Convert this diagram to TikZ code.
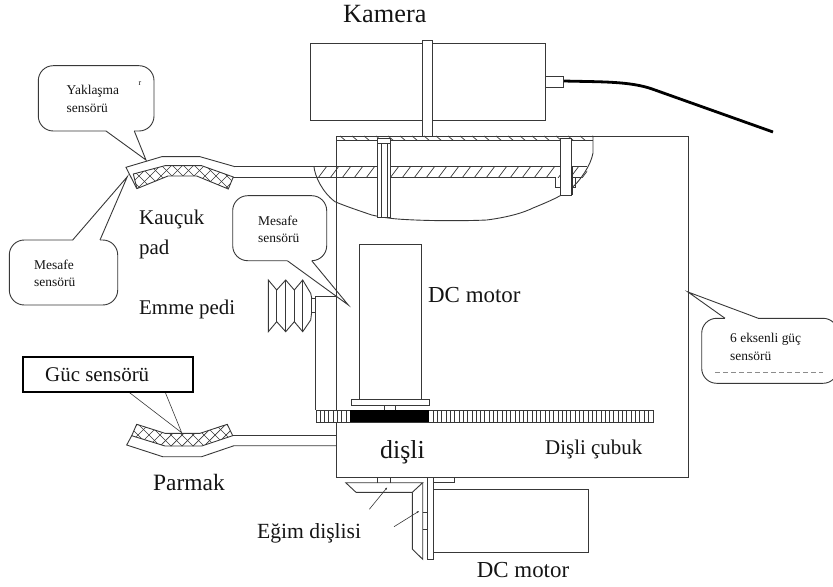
\documentclass[tikz,border=0pt]{standalone}
\usepackage{fontspec}
\usetikzlibrary{arrows.meta}
\setmainfont{Liberation Serif}
% left, top, right, bottom, pointer foot 1, pointer foot 2, edge the feet sit on, tip x, tip y
\newcommand{\CallBox}[9]{%
  \draw[part,rounded corners=15,fill=white] (#1,#2) rectangle (#3,#4);
  \draw[white,line width=2bp] (#5,#7) -- (#6,#7);
  \draw[part] (#5,#7) -- (#8,#9) -- (#6,#7);
}
\tikzset{
  part/.style={draw=black!78,line width=.9bp,line join=miter},
  thin line/.style={line width=.6bp},
  hatchline/.style={draw=black!78,line width=.7bp},
  lbl/.style={anchor=base west,inner sep=0pt,text=black!92},
  big/.style={lbl,font=\fontsize{21}{24}\selectfont},
  small/.style={lbl,font=\fontsize{13.5}{15}\selectfont},
}
\begin{document}
\begin{tikzpicture}[x=1bp,y=-1bp]
\useasboundingbox (0,0) rectangle (833,587);
\clip (0,0) rectangle (833,587);
% camera
\draw[part] (310,43.5) rectangle (545,120.7);
\draw[part,fill=white] (422.7,40.7) rectangle (432.7,136);
\draw[part] (545,76.7) rectangle (563.7,87.3);
\draw[line width=2.8bp,black] (564,81) .. controls (600,82) and (630,81) .. (653,89.3) -- (773,132);
% main box
\draw[part] (336.7,136) rectangle (688,477);
% top hatched strip
\begin{scope}
\clip (336.7,136) rectangle (593,140.7);
\foreach \x in {340,352,...,600} \draw[hatchline] (\x,136) -- (\x+6,141);
\end{scope}
\draw[part] (336.7,140.7) -- (593,140.7);
% arm and plate
\begin{scope}
\clip (314,166.7) rectangle (587,177.3);
\foreach \x in {318,330,...,600} \draw[hatchline] (\x,178) -- (\x+9,166);
\end{scope}
\draw[part] (235,166.7) -- (587,166.7);
\draw[part] (232.7,177.3) -- (555,177.3);
% cut-away outline
\draw[part] (314,167) .. controls (315,176) and (322,192) .. (335,201.7)
  .. controls (345,206) and (360,211) .. (371.7,215)
  .. controls (385,218) and (395,219) .. (405,219.5)
  .. controls (430,221) and (465,221) .. (486.7,220)
  .. controls (510,217) and (525,212) .. (533,208)
  .. controls (550,201) and (562,196) .. (571.7,188)
  .. controls (580,181) and (591,165) .. (593,153) -- (593,136);
% bolts
\draw[part,fill=white] (377.3,138) rectangle (390.7,217.3);
\draw[part] (381,143) -- (381,217.3) (387.3,143) -- (387.3,217.3);
\draw[part,fill=white] (377.3,138) rectangle (390.7,143);
\draw[part,fill=white] (555,177.3) -- (555,187.3) -- (560.7,187.3);
\draw[part] (575,177.3) -- (575,187) -- (571.7,187);
\draw[part,fill=white] (560.7,138) rectangle (571.7,195);
\draw[line width=1.4bp,black!80] (572,166.7) -- (572,195);
\draw[part] (571.7,177.3) -- (581,177.3);
% upper finger
\draw[part] (235,166.7) -- (200,156.7) -- (161.7,156.7) -- (126,167.3) -- (136.7,188.6);
\begin{scope}
\clip (133.3,174) -- (165,165.7) -- (201.7,165.7) -- (233.3,177) -- (228.3,189) -- (196.7,176) -- (168,176) -- (137,188.6) -- cycle;
\foreach \x in {90,101,...,260} {
  \draw[hatchline] (\x,160) -- (\x+32,192);
  \draw[hatchline] (\x,192) -- (\x+32,160);
}
\end{scope}
\draw[part] (133.3,174) -- (165,165.7) -- (201.7,165.7) -- (233.3,177) -- (228.3,189) -- (196.7,176) -- (168,176) -- (137,188.6) -- cycle;
% lower finger
\draw[part] (336.7,435.7) -- (232.7,435.7);
\draw[part] (336.7,445.7) -- (234,445.7) -- (201.7,456.7) -- (162.7,456.7) -- (126.7,445) -- (131.7,435.7);
\begin{scope}
\clip (136.7,424.3) -- (165,433.3) -- (200,433.3) -- (227.3,424.3) -- (232.7,435.7) -- (201.7,446) -- (165,446) -- (131.7,435.7) -- cycle;
\foreach \x in {90,101,...,260} {
  \draw[hatchline] (\x,420) -- (\x+30,450);
  \draw[hatchline] (\x,450) -- (\x+30,420);
}
\end{scope}
\draw[part] (136.7,424.3) -- (165,433.3) -- (200,433.3) -- (227.3,424.3) -- (232.7,435.7) -- (201.7,446) -- (165,446) -- (131.7,435.7) -- cycle;
% suction pad
\draw[part] (315.7,410) -- (315.7,296.7) -- (336.7,296.7);
\draw[part] (311.7,298.3) rectangle (315.7,312.3);
\draw[part] (311.7,298) -- (310.7,293.3) -- (302.7,280) -- (294.3,290) -- (285.7,280) -- (276.7,290) -- (268.3,280) -- (268.3,331.7) -- (276.7,321.7) -- (285.7,331.7) -- (294.3,321.7) -- (302.7,331.7) -- (310.7,320) -- (311.7,312);
\draw[part] (276.7,290) -- (276.7,321.7) (285.7,280) -- (285.7,331.7) (294.3,290) -- (294.3,321.7) (302.7,280) -- (302.7,331.7);
% DC motor vertical
\draw[part] (359,399.3) -- (359,244) -- (421.7,244) -- (421.7,399.3);
\draw[part] (351,399.3) rectangle (429.3,405);
\draw[part] (384.3,405) -- (384.3,410) (395.3,405) -- (395.3,410);
% rack
\draw[part,fill=white] (316,410) rectangle (653,422.3);
\foreach \x in {320.3,324.6,...,350} \draw[part] (\x,410) -- (\x,422.3);
\foreach \x in {433.3,437.6,...,652} \draw[part] (\x,410) -- (\x,422.3);
\fill[black] (350,410) rectangle (429,422.3);
% lower bevel gears
\draw[part] (377.7,477) -- (377.7,482.7) (390.7,477) -- (390.7,482.7);
\draw[part] (345.7,482.7) -- (422.7,482.7) -- (412.3,492.3) -- (356,492.3) -- cycle;
\draw[part] (412.3,492.3) -- (412.3,549) -- (422.7,559.3) -- (422.7,482.7);
\draw[part] (427.7,477) -- (427.7,559.3) -- (433.3,559.3) -- (433.3,477);
\draw[part] (422.7,512.7) -- (427.7,512.7) (422.7,529) -- (427.7,529);
\draw[part] (454,477) -- (454,482.7) -- (433.3,482.7);
\draw[part] (433.3,489.3) rectangle (588.7,552.7);
\coordinate (la) at (369.3,509.3); \coordinate (lb) at (387.3,487.3);
\coordinate (lc) at (394,526.7); \coordinate (ld) at (419.3,511);
\draw[part,thin line,-{Latex[length=2.5bp,width=2bp]}] (la) -- (lb);
\draw[part,thin line,-{Latex[length=2.5bp,width=2bp]}] (lc) -- (ld);
% callouts
\CallBox{38.3}{65.7}{154}{131}{106}{134.3}{131}{146}{160}
\CallBox{9.3}{240}{117.7}{305}{72.7}{100}{240}{127.3}{176.7}
\CallBox{232.7}{195.7}{326.7}{260.7}{287.3}{311.7}{260.7}{348.3}{305}
\CallBox{701.7}{318.3}{838}{383.3}{725}{758.3}{318.3}{688}{292}
\draw[black!45,line width=.7bp,dash pattern=on 5bp off 3bp] (715,372.7) -- (823,372.7);
\node[small] (ty) at (66.5,95) {Yaklaşma};
\node[small] (ty2) at (66.5,112.7) {sensörü};
\node[lbl,font=\fontsize{8}{9}\selectfont] (tr) at (138.5,86) {r};
\node[small] (tm1) at (34,269) {Mesafe};
\node[small] (tm2) at (34,286.7) {sensörü};
\node[small] (tm3) at (258,226) {Mesafe};
\node[small] (tm4) at (258,242.7) {sensörü};
\node[small] (t61) at (730,342.7) {6 eksenli güç};
\node[small] (t62) at (730,360) {sensörü};
% force sensor box
\coordinate (ga) at (128.3,391.7); \coordinate (gb) at (165,391.7); \coordinate (gt) at (181.7,432.7);
\draw[part,thin line] (ga) -- (gt) -- (gb);
\draw[black,line width=1.8bp,fill=white] (23.3,357) rectangle (193.3,391.7);
\node[big] (tg) at (45,381) {Güc sensörü};
% labels
\node[lbl,font=\fontsize{26.4}{28}\selectfont] (tk) at (343,23) {Kamera};
\node[big] (t1) at (139,225) {Kauçuk};
\node[big] (t2) at (139,254) {pad};
\node[big] (t3) at (139,314) {Emme pedi};
\node[big,font=\fontsize{23}{26}\selectfont] (t4) at (428,302.7) {DC motor};
\node[big,font=\fontsize{23.5}{26}\selectfont] (t5) at (153,490.7) {Parmak};
\node[big,font=\fontsize{26}{28}\selectfont] (t6) at (380,458) {dişli};
\node[big] (t7) at (545,454) {Dişli çubuk};
\node[big,font=\fontsize{21.7}{24}\selectfont] (t8) at (257,538) {Eğim dişlisi};
\node[big,font=\fontsize{23}{26}\selectfont] (t9) at (476.7,577) {DC motor};
\end{tikzpicture}
\end{document}
